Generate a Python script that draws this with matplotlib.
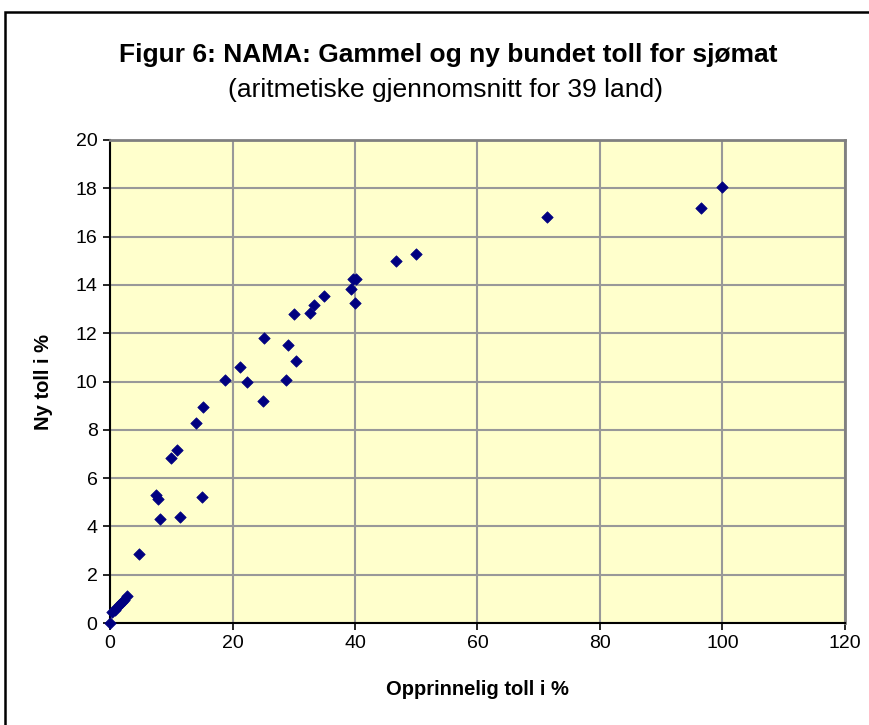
import matplotlib.pyplot as plt
from matplotlib.patches import Rectangle

plt.rcParams['font.family'] = ['Liberation Sans', 'DejaVu Sans']

TITLE = 'Figur 6: NAMA: Gammel og ny bundet toll for sjømat'
SUBTITLE = '(aritmetiske gjennomsnitt for 39 land)'
X_LABEL = 'Opprinnelig toll i %'
Y_LABEL = 'Ny toll i %'

# opprinnelig (gammel) bundet toll, %
old_tariff = [
    0.0, 0.4, 0.8, 1.2, 1.5, 1.9, 2.3, 2.7,
    4.8, 8.2, 11.5, 7.5, 7.9, 15.1, 10.0, 11.0, 14.0, 15.2,
    18.8, 21.2, 22.4, 24.9, 25.2, 28.7, 29.1, 30.3, 30.0,
    32.7, 33.3, 35.0, 39.3, 39.7, 40.1, 40.0, 46.7, 49.9,
    71.4, 96.5, 100.0,
]
# ny bundet toll, %
new_tariff = [
    0.0, 0.45, 0.55, 0.65, 0.75, 0.85, 0.95, 1.1,
    2.85, 4.3, 4.4, 5.3, 5.15, 5.23, 6.85, 7.17, 8.3, 8.93,
    10.07, 10.6, 10.0, 9.2, 11.8, 10.08, 11.5, 10.85, 12.78,
    12.85, 13.15, 13.55, 13.85, 14.25, 14.25, 13.25, 15.0, 15.3,
    16.8, 17.18, 18.05,
]

x_ticks = [0, 20, 40, 60, 80, 100, 120]
y_ticks = [0, 2, 4, 6, 8, 10, 12, 14, 16, 18, 20]

fig = plt.figure(figsize=(8.7, 7.25), dpi=100)

# chart frame (runs off the right and bottom edge like the crop)
fig.patches.append(Rectangle((5 / 870, -0.05), 1.1, (725 - 12) / 725 + 0.05,
                             transform=fig.transFigure, fill=False,
                             edgecolor='black', linewidth=1.8, zorder=0))

ax = fig.add_axes([110 / 870, (725 - 623) / 725, 735 / 870, 483 / 725])
ax.set_facecolor('#FFFFCC')

ax.scatter(old_tariff, new_tariff, marker='D', s=34, color='#000080',
           edgecolors='#000080', linewidths=0.5, zorder=3, clip_on=False)

ax.set_xlim(0, 120)
ax.set_ylim(0, 20)
ax.set_xticks(x_ticks)
ax.set_yticks(y_ticks)
ax.grid(True, color='#999999', linewidth=1.5)
ax.set_axisbelow(True)

for side in ('top', 'right'):
    ax.spines[side].set_color('#808080')
    ax.spines[side].set_linewidth(2)
for side in ('left', 'bottom'):
    ax.spines[side].set_color('black')
    ax.spines[side].set_linewidth(1.5)

ax.tick_params(axis='both', direction='out', length=5, width=1.2,
               labelsize=14, color='black', pad=4)

ax.set_xlabel(X_LABEL, fontsize=14.5, fontweight='bold', labelpad=20)
ax.set_ylabel(Y_LABEL, fontsize=14.5, fontweight='bold', labelpad=16)

fig.text(448 / 870, 1 - 55 / 725, TITLE, ha='center', va='center',
         fontsize=19, fontweight='bold')
fig.text(446 / 870, 1 - 90 / 725, SUBTITLE, ha='center', va='center',
         fontsize=19)

fig.savefig('out.png', dpi=100)
